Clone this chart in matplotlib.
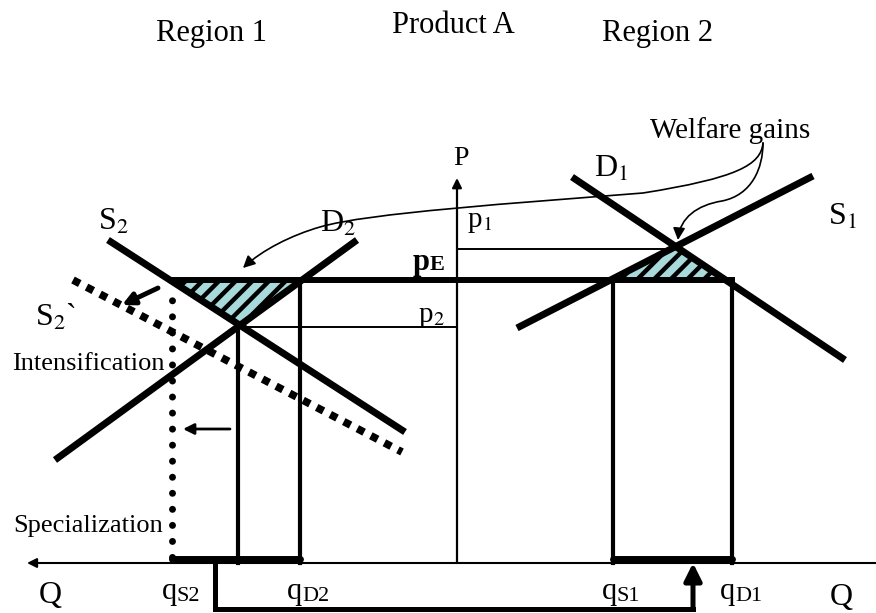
import numpy as np
import matplotlib
matplotlib.use("Agg")
import matplotlib.pyplot as plt
from matplotlib.path import Path
from matplotlib.patches import Polygon, FancyArrowPatch

plt.rcParams['font.family'] = ['Liberation Serif', 'DejaVu Serif']
plt.rcParams['mathtext.fontset'] = 'stix'
plt.rcParams['hatch.linewidth'] = 3.2

# ---------------- DATA ----------------
# quantities measured from the price axis (region 1 to the left)
q_S2, q_eq2, q_D2 = -285, -219, -157
q_S1, q_eq1, q_D1 = 156, 221, 275
q_trade = [-242, 236]          # traded quantity bracket
# price levels
p1, pE, p2 = 314, 283, 236
q_axis_len = [-430, 419]
p_axis_top = 385
spec_top = 268

# supply / demand schedules, end points (Q, P)
S2_line = [(-349, 323), (-52, 131)]
D2_line = [(-402, 103), (-100, 323)]
S2s_line = [(-384, 283), (-55, 111)]   # shifted supply S2`
D1_line = [(115, 386), (388, 203)]
S1_line = [(60, 235), (356, 387)]

# "welfare gains" pointer curves (bezier control points)
gain_left = [(306, 420), (304, 398), (280, 385), (186, 370),
             (60, 360), (-90, 350), (-137, 336),
             (-165, 328), (-195, 313), (-214, 295)]
gain_right = [(306, 420), (306, 395), (295, 368), (265, 362),
              (240, 358), (223, 345), (221, 323)]


def x_at(line, y):
    (xa, ya), (xb, yb) = line
    return xa + (y - ya) * (xb - xa) / (yb - ya)


def cross(l1, l2):
    (x1, y1), (x2, y2) = l1
    (x3, y3), (x4, y4) = l2
    a = np.array([[y2 - y1, x1 - x2], [y4 - y3, x3 - x4]])
    b = np.array([(y2 - y1) * x1 + (x1 - x2) * y1,
                  (y4 - y3) * x3 + (x3 - x4) * y3])
    return np.linalg.solve(a, b)


fig = plt.figure(figsize=(8.76, 6.13), dpi=100)
ax = fig.add_axes([0, 0, 1, 1])
ax.set_xlim(-457, 419)
ax.set_ylim(-50, 563)
ax.axis('off')

# ---------------- hatched welfare triangles ----------------
for s_line, d_line in [(S2_line, D2_line), (S1_line, D1_line)]:
    apex = cross(s_line, d_line)
    tri = [(x_at(s_line, pE), pE), (x_at(d_line, pE), pE), tuple(apex)]
    ax.add_patch(Polygon(tri, closed=True, facecolor='#a8dadc',
                         edgecolor='black', hatch='//', lw=0, zorder=1))

# ---------------- axes ----------------
ax.annotate('', xy=(q_axis_len[0], 0), xytext=(q_axis_len[1], 0),
            arrowprops=dict(arrowstyle='-|>', lw=1.5, color='black',
                            mutation_scale=14, shrinkA=0, shrinkB=0))
ax.annotate('', xy=(0, p_axis_top), xytext=(0, 0),
            arrowprops=dict(arrowstyle='-|>', lw=1.6, color='black',
                            mutation_scale=14, shrinkA=0, shrinkB=0))

# ---------------- schedules ----------------
for line in [S2_line, D2_line, D1_line, S1_line]:
    xs, ys = zip(*line)
    ax.plot(xs, ys, color='black', lw=5, solid_capstyle='butt', zorder=3)
xs, ys = zip(*S2s_line)
ax.plot(xs, ys, color='black', lw=5.5, ls=(0, (1, 1)),
        dash_capstyle='butt', zorder=3)

# price lines
ax.plot([q_S2, q_D1], [pE, pE], color='black', lw=4.3, zorder=4)
ax.plot([0, q_eq1], [p1, p1], color='black', lw=1.4, zorder=2)
ax.plot([q_eq2, 0], [p2, p2], color='black', lw=1.4, zorder=2)

# quantity verticals
ax.plot([q_eq2, q_eq2], [0, p2], color='black', lw=3, zorder=2)
ax.plot([q_D2, q_D2], [0, pE], color='black', lw=3, zorder=2)
ax.plot([q_S1, q_S1], [0, pE], color='black', lw=3, zorder=2)
ax.plot([q_D1, q_D1], [0, pE], color='black', lw=3, zorder=2)

# specialization (dotted)
ax.plot([q_S2, q_S2], [6, spec_top], color='black', lw=5,
        ls=(0, (0.01, 2.3)), dash_capstyle='round', zorder=3)

# thick quantity ranges on the Q axis
ax.plot([q_S2, q_D2], [4, 4], color='black', lw=5, solid_capstyle='round', zorder=4)
ax.plot([q_S1, q_D1], [4, 4], color='black', lw=5, solid_capstyle='round', zorder=4)

# trade bracket
ax.plot([q_trade[0], q_trade[0], q_trade[1]], [0, -46, -46], color='black',
        lw=3.6, solid_joinstyle='miter', solid_capstyle='projecting')
ax.annotate('', xy=(q_trade[1], 0), xytext=(q_trade[1], -46),
            arrowprops=dict(arrowstyle='-|>', lw=3.6, color='black',
                            mutation_scale=26, shrinkA=0, shrinkB=0))

# shift arrows
ax.annotate('', xy=(-274, 134), xytext=(-227, 134),
            arrowprops=dict(arrowstyle='-|>', lw=2, color='black',
                            mutation_scale=16, shrinkA=0, shrinkB=0))
ax.annotate('', xy=(-335, 258), xytext=(-299, 275),
            arrowprops=dict(arrowstyle='-|>', lw=3.5, color='black',
                            mutation_scale=18, shrinkA=0, shrinkB=0))

# welfare gains pointers
for pts in [gain_left, gain_right]:
    codes = [Path.MOVETO] + [Path.CURVE4] * (len(pts) - 1)
    arr = FancyArrowPatch(path=Path(pts, codes), arrowstyle='-|>',
                          mutation_scale=18, lw=1.2, color='black', zorder=5)
    ax.add_patch(arr)

# ---------------- text ----------------
ax.text(-246, 522, 'Region 1', ha='center', va='baseline', fontsize=22)
ax.text(-4, 530, 'Product A', ha='center', va='baseline', fontsize=22)
ax.text(201, 522, 'Region 2', ha='center', va='baseline', fontsize=22)
ax.text(273, 425, 'Welfare gains', ha='center', va='baseline', fontsize=21)

ax.text(4, 398, 'P', ha='center', va='baseline', fontsize=20)
ax.text(137, 386, 'D$_1$', ha='left', va='baseline', fontsize=23)
ax.text(371, 338, 'S$_1$', ha='left', va='baseline', fontsize=23)
ax.text(-359, 333, 'S$_2$', ha='left', va='baseline', fontsize=23)
ax.text(-137, 331, 'D$_2$', ha='left', va='baseline', fontsize=23)
ax.text(-422, 237, 'S$_2$`', ha='left', va='baseline', fontsize=23)

ax.text(10, 336, 'p$_1$', ha='left', va='baseline', fontsize=21)
ax.text(-39, 241, 'p$_2$', ha='left', va='baseline', fontsize=21)
ax.text(-44, 293, 'p', ha='left', va='baseline', fontsize=22, fontweight='bold')
ax.text(-27, 293, 'E', ha='left', va='baseline', fontsize=16, fontweight='bold')

ax.text(-292, 193, 'Intensification', ha='right', va='baseline', fontsize=19)
ax.text(-294, 31, 'Specialization', ha='right', va='baseline', fontsize=19)

ax.text(-407, -40, 'Q', ha='center', va='baseline', fontsize=23)
ax.text(384, -42, 'Q', ha='center', va='baseline', fontsize=23)
for qx, sub in [(-295, 'S2'), (-170, 'D2'), (145, 'S1'), (263, 'D1')]:
    ax.text(qx, -36, 'q', ha='left', va='baseline', fontsize=22)
    ax.text(qx + 15, -38, sub, ha='left', va='baseline', fontsize=16)

fig.savefig('out.png', dpi=100)
